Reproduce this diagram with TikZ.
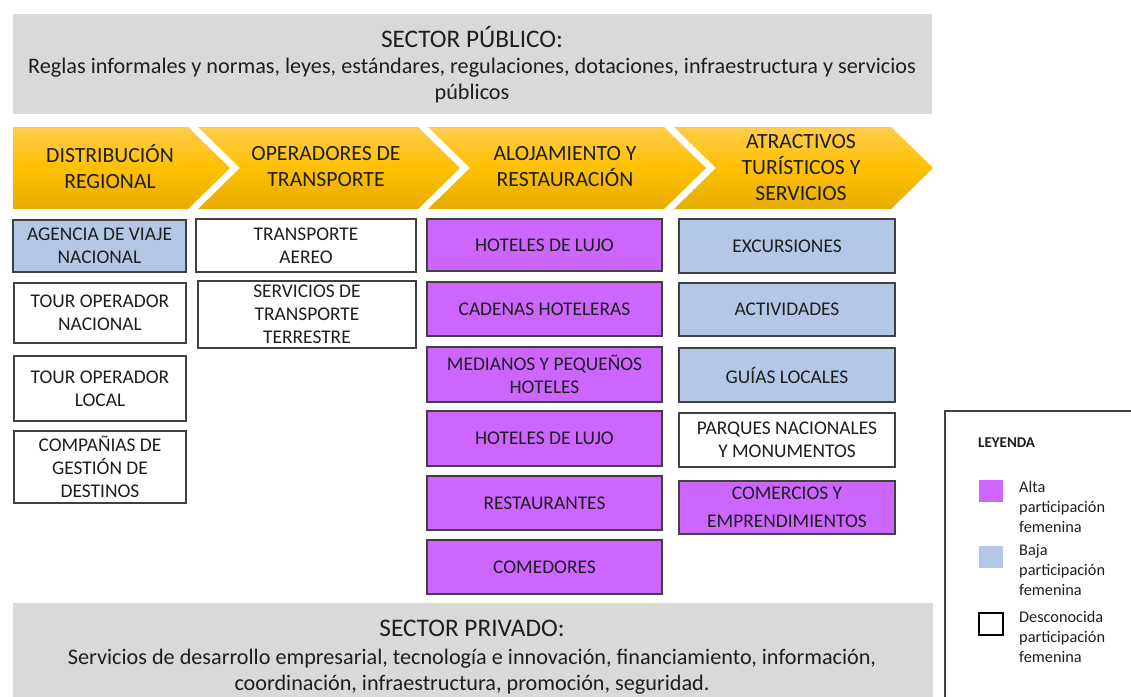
\documentclass[tikz,border=0pt]{standalone}
\usepackage{fontspec}
\setmainfont{Carlito}
\definecolor{grayfill}{HTML}{D9D9D9}
\definecolor{purp}{HTML}{CC66FF}
\definecolor{lblue}{HTML}{B4C7E7}
\definecolor{edgec}{HTML}{404040}
\definecolor{chevtop}{HTML}{FFCC4D}
\definecolor{chevmid}{HTML}{FFC000}
\definecolor{chevbot}{HTML}{E6AC00}
\definecolor{ink}{HTML}{1E1E1E}
\newcommand\bx[7]{\node[#6, minimum width={(#4-#2)*1pt}, minimum height={(#5-#3)*1pt}] (#1) at ({(#2+#4)/2},{(#3+#5)/2}) {#7};}
\tikzset{
  cell/.style={draw=edgec, line width=1.2pt, inner sep=0pt, outer sep=0pt, align=center, text=ink, font=\fontsize{19.4}{23}\selectfont},
  hi/.style={cell, fill=purp},
  lo/.style={cell, fill=lblue},
  unk/.style={cell, fill=white},
  chev/.style={top color=chevtop, bottom color=chevbot, middle color=chevmid},
  chevtext/.style={align=center, text=ink, font=\fontsize{21.7}{26}\selectfont},
  sectitle/.style={anchor=base, inner sep=0pt, text=ink, font=\fontsize{25.3}{30}\selectfont},
  secline/.style={anchor=base, inner sep=0pt, text=ink, font=\fontsize{22.2}{25}\selectfont},
  legtext/.style={anchor=north west, align=left, inner sep=0pt, text=ink, font=\fontsize{16.3}{20}\selectfont},
  swatch/.style={inner sep=0pt, outer sep=0pt, draw=none},
}
\begin{document}
\begin{tikzpicture}[x=1pt,y=-1pt]
\useasboundingbox (0,0) rectangle (1131,696);
\clip (0,0) rectangle (1131,696);
\fill[white] (0,0) rectangle (1131,696);

% sector publico
\fill[grayfill] (13,14) rectangle (932,114);
\node[sectitle] (pubt) at (472,47) {SECTOR PÚBLICO:};
\node[secline] (pub1) at (472,73) {Reglas informales y normas, leyes, estándares, regulaciones, dotaciones, infraestructura y servicios};
\node[secline] (pub2) at (472,99) {públicos};

% chevrons
\shade[chev] (13,127) -- (188,127) -- (230,168) -- (188,209) -- (13,209) -- cycle;
\shade[chev] (198,127) -- (418,127) -- (460,168) -- (418,209) -- (198,209) -- (240,168) -- cycle;
\shade[chev] (428,127) -- (664,127) -- (706,168) -- (664,209) -- (428,209) -- (470,168) -- cycle;
\shade[chev] (674,127) -- (891,127) -- (933,168) -- (891,209) -- (674,209) -- (716,168) -- cycle;
\node[chevtext] (h1) at (110,167) {DISTRIBUCIÓN\\REGIONAL};
\node[chevtext] (h2) at (326,167) {OPERADORES DE\\TRANSPORTE};
\node[chevtext] (h3) at (565,167) {ALOJAMIENTO Y\\RESTAURACIÓN};
\node[chevtext] (h4) at (801,168) {ATRACTIVOS\\TURÍSTICOS Y\\SERVICIOS};

% column 1
\bx{a1}{13}{220}{186}{272}{lo}{AGENCIA DE VIAJE\\NACIONAL}
\bx{a2}{14}{283}{186}{343}{unk}{TOUR OPERADOR\\NACIONAL}
\bx{a3}{14}{356}{186}{421}{unk}{TOUR OPERADOR\\LOCAL}
\bx{a4}{14}{431}{186}{503}{unk}{COMPAÑIAS DE\\GESTIÓN DE\\DESTINOS}
% column 2
\bx{b1}{196}{219}{416}{272}{unk}{TRANSPORTE\\AEREO}
\bx{b2}{198}{281}{416}{348}{unk}{SERVICIOS DE\\TRANSPORTE\\TERRESTRE}
% column 3
\bx{c1}{427}{219}{662}{271}{hi}{HOTELES DE LUJO}
\bx{c2}{427}{282}{662}{336}{hi}{CADENAS HOTELERAS}
\bx{c3}{427}{347}{662}{402}{hi}{MEDIANOS Y PEQUEÑOS\\HOTELES}
\bx{c4}{427}{411}{662}{466}{hi}{HOTELES DE LUJO}
\bx{c5}{427}{476}{662}{530}{hi}{RESTAURANTES}
\bx{c6}{427}{540}{662}{594}{hi}{COMEDORES}
% column 4
\bx{d1}{679}{219}{895}{273}{lo}{EXCURSIONES}
\bx{d2}{679}{283}{895}{336}{lo}{ACTIVIDADES}
\bx{d3}{679}{348}{895}{402}{lo}{GUÍAS LOCALES}
\bx{d4}{679}{413}{895}{467}{unk}{PARQUES NACIONALES\\Y MONUMENTOS}
\bx{d5}{679}{481}{895}{534}{hi}{COMERCIOS Y\\[5pt]EMPRENDIMIENTOS}

% sector privado
\fill[grayfill] (13,603) rectangle (933,710);
\node[sectitle] (privt) at (472,636) {SECTOR PRIVADO:};
\node[secline] (priv1) at (472,664) {Servicios de desarrollo empresarial, tecnología e innovación, financiamiento, información,};
\node[secline] (priv2) at (472,690) {coordinación, infraestructura, promoción, seguridad.};

% legend
\draw[edgec, line width=1.2pt, fill=white] (945,411) rectangle (1150,720);
\node[anchor=base west, inner sep=0pt, text=ink, font=\bfseries\fontsize{15}{18}\selectfont] (legt) at (978,447) {LEYENDA};
\bx{s1}{979}{480}{1003}{502}{swatch, fill=purp}{}
\bx{s2}{979}{546}{1003}{568}{swatch, fill=lblue}{}
\bx{s3}{979}{613}{1003}{635}{swatch, draw=black, line width=1.2pt, fill=white}{}
\node[legtext] (l1) at (1019,481) {Alta\\participación\\femenina};
\node[legtext] (l2) at (1019,544) {Baja\\participación\\femenina};
\node[legtext] (l3) at (1019,611) {Desconocida\\participación\\femenina};
\end{tikzpicture}
\end{document}
